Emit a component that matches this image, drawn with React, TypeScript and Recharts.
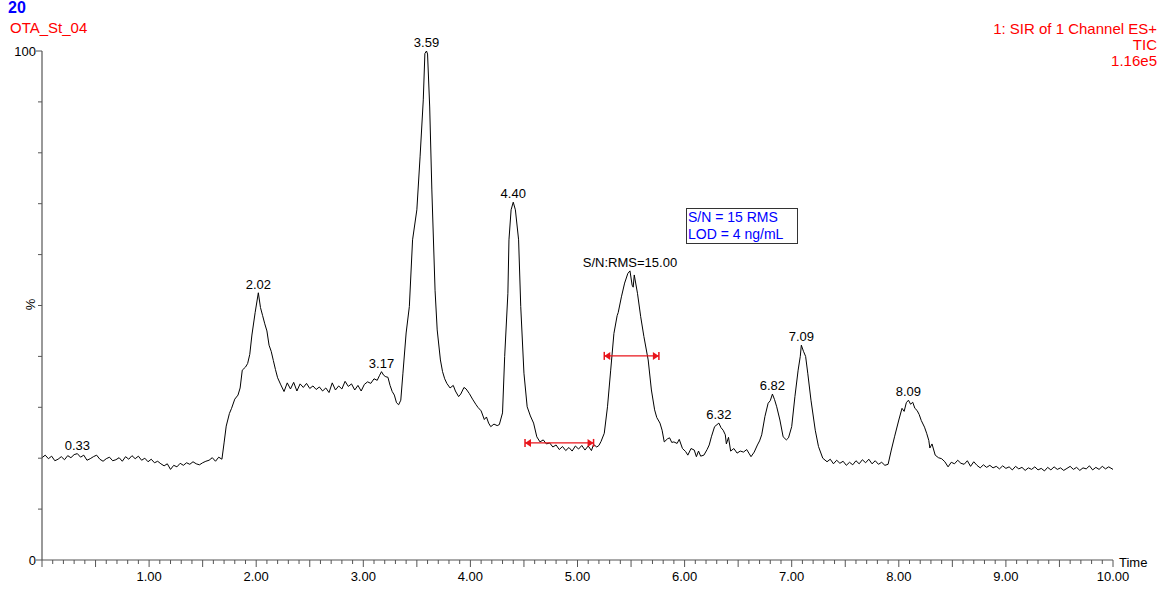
import { LineChart, Line, XAxis, YAxis, ReferenceLine } from "recharts";

// TIC trace: [retention time (min), relative abundance (%)]
const trace: [number, number][] = [
  [0.0, 20.1], [0.03, 20.6], [0.06, 19.9], [0.09, 20.4], [0.12, 19.5], [0.15, 19.8], [0.18, 20.3],
  [0.21, 19.7], [0.24, 20.5], [0.27, 20.1], [0.3, 20.7], [0.33, 20.9], [0.36, 20.2], [0.39, 20.6],
  [0.42, 19.6], [0.45, 19.9], [0.48, 20.3], [0.51, 20.6], [0.54, 19.8], [0.57, 19.4], [0.6, 19.9],
  [0.63, 20.2], [0.66, 19.5], [0.69, 19.7], [0.72, 20.1], [0.75, 19.4], [0.78, 20.3], [0.81, 19.8],
  [0.84, 20.5], [0.87, 19.9], [0.9, 20.4], [0.93, 19.6], [0.96, 20.0], [0.99, 19.3], [1.02, 19.8],
  [1.05, 19.1], [1.08, 19.4], [1.11, 18.9], [1.14, 18.5], [1.17, 18.9], [1.2, 17.8], [1.23, 18.6],
  [1.26, 18.3], [1.29, 19.0], [1.32, 18.6], [1.35, 19.1], [1.38, 18.8], [1.41, 19.3], [1.44, 18.9],
  [1.47, 18.7], [1.5, 19.1], [1.53, 19.4], [1.56, 19.6], [1.59, 20.1], [1.62, 19.4], [1.65, 20.2],
  [1.68, 19.8], [1.7, 23.0], [1.72, 26.3], [1.75, 28.8], [1.77, 29.8], [1.8, 31.6], [1.83, 32.4],
  [1.85, 33.8], [1.87, 37.3], [1.9, 37.9], [1.92, 38.6], [1.94, 40.4], [1.96, 44.2], [1.99, 48.6],
  [2.02, 52.5], [2.04, 49.6], [2.06, 48.0], [2.08, 46.4], [2.1, 45.0], [2.12, 42.2], [2.14, 41.0],
  [2.16, 39.2], [2.18, 37.4], [2.2, 35.8], [2.23, 34.4], [2.26, 33.1], [2.29, 34.8], [2.32, 33.6],
  [2.35, 34.9], [2.38, 33.2], [2.41, 34.6], [2.44, 33.9], [2.47, 34.7], [2.5, 33.7], [2.53, 34.2],
  [2.56, 33.5], [2.59, 34.0], [2.62, 33.2], [2.65, 33.8], [2.68, 32.9], [2.71, 34.8], [2.74, 33.4],
  [2.77, 34.2], [2.8, 33.6], [2.83, 35.1], [2.86, 34.1], [2.89, 34.6], [2.92, 33.4], [2.95, 34.3],
  [2.98, 33.2], [3.01, 34.5], [3.04, 35.0], [3.07, 34.7], [3.1, 35.6], [3.13, 35.3], [3.15, 36.2],
  [3.17, 37.0], [3.19, 36.3], [3.21, 36.0], [3.23, 35.9], [3.25, 34.3], [3.27, 33.1], [3.29, 32.4],
  [3.31, 30.9], [3.33, 30.5], [3.35, 31.4], [3.37, 36.7], [3.4, 44.6], [3.43, 49.8], [3.46, 62.9],
  [3.5, 68.8], [3.53, 79.2], [3.56, 90.4], [3.575, 99.5], [3.59, 100.0], [3.6, 99.4], [3.62, 89.0],
  [3.64, 72.7], [3.67, 53.0], [3.69, 45.2], [3.72, 39.3], [3.74, 37.0], [3.76, 35.6], [3.78, 34.7],
  [3.81, 33.8], [3.84, 34.3], [3.86, 33.2], [3.89, 32.1], [3.91, 32.6], [3.94, 33.9], [3.96, 33.6],
  [3.99, 32.7], [4.02, 31.6], [4.05, 30.6], [4.07, 30.0], [4.1, 29.3], [4.13, 27.6], [4.15, 28.1],
  [4.17, 26.9], [4.19, 26.2], [4.22, 26.7], [4.25, 26.4], [4.27, 26.6], [4.3, 28.9], [4.32, 40.0],
  [4.35, 52.4], [4.36, 62.9], [4.38, 68.8], [4.4, 70.3], [4.42, 68.8], [4.45, 62.9], [4.47, 49.8],
  [4.5, 36.7], [4.53, 30.1], [4.56, 28.3], [4.59, 26.9], [4.62, 24.2], [4.65, 23.2], [4.68, 23.6],
  [4.71, 22.8], [4.74, 23.0], [4.77, 22.2], [4.8, 22.6], [4.83, 21.7], [4.86, 22.3], [4.89, 21.5],
  [4.92, 22.1], [4.95, 21.4], [4.98, 22.4], [5.01, 21.8], [5.04, 22.5], [5.07, 21.6], [5.1, 22.4],
  [5.13, 21.5], [5.15, 22.7], [5.18, 22.2], [5.2, 22.5], [5.22, 23.3], [5.25, 24.9], [5.28, 30.1],
  [5.31, 37.3], [5.34, 44.5], [5.37, 48.0], [5.38, 48.6], [5.41, 51.7], [5.44, 54.4], [5.47, 56.3],
  [5.49, 56.8], [5.51, 54.0], [5.52, 53.6], [5.53, 56.0], [5.56, 52.4], [5.59, 47.8], [5.62, 43.9],
  [5.66, 39.3], [5.69, 33.4], [5.72, 29.5], [5.74, 28.0], [5.77, 26.9], [5.79, 25.5], [5.81, 23.2],
  [5.84, 23.8], [5.86, 24.0], [5.88, 23.1], [5.9, 23.2], [5.93, 22.9], [5.95, 23.7], [5.98, 21.9],
  [6.01, 21.3], [6.03, 20.6], [6.06, 21.9], [6.09, 21.6], [6.11, 20.3], [6.13, 21.4], [6.15, 20.4],
  [6.18, 20.6], [6.21, 21.7], [6.23, 22.6], [6.25, 24.2], [6.28, 26.2], [6.32, 26.9], [6.34, 26.0],
  [6.36, 25.5], [6.38, 24.6], [6.39, 22.8], [6.41, 24.1], [6.43, 21.4], [6.46, 21.9], [6.49, 21.0],
  [6.52, 21.4], [6.55, 21.2], [6.58, 21.7], [6.6, 21.0], [6.62, 20.3], [6.65, 21.2], [6.68, 22.6],
  [6.7, 23.4], [6.72, 24.6], [6.75, 28.2], [6.78, 30.8], [6.8, 31.3], [6.82, 32.6], [6.84, 31.5],
  [6.86, 30.1], [6.89, 27.5], [6.92, 24.2], [6.95, 23.6], [6.97, 24.0], [7.0, 26.2], [7.03, 32.1],
  [7.06, 37.3], [7.08, 40.0], [7.09, 42.2], [7.11, 41.0], [7.13, 40.0], [7.15, 36.7], [7.18, 31.4],
  [7.22, 25.5], [7.25, 22.3], [7.29, 20.0], [7.33, 19.3], [7.36, 19.8], [7.39, 18.9], [7.42, 19.6],
  [7.45, 19.0], [7.48, 19.4], [7.51, 18.6], [7.54, 19.2], [7.57, 18.7], [7.6, 19.5], [7.63, 18.9],
  [7.66, 19.7], [7.69, 19.1], [7.72, 19.8], [7.75, 18.9], [7.78, 19.5], [7.81, 18.8], [7.84, 19.2],
  [7.87, 18.6], [7.9, 18.8], [7.93, 21.6], [7.96, 24.2], [8.0, 27.5], [8.03, 29.8], [8.05, 29.2],
  [8.07, 30.9], [8.09, 31.4], [8.11, 30.6], [8.13, 31.0], [8.15, 29.8], [8.17, 29.4], [8.19, 28.6],
  [8.21, 27.4], [8.24, 26.1], [8.26, 24.9], [8.28, 23.5], [8.29, 22.0], [8.31, 22.8], [8.34, 20.6],
  [8.37, 20.1], [8.4, 19.9], [8.43, 19.3], [8.46, 18.3], [8.49, 19.2], [8.52, 18.9], [8.55, 19.6],
  [8.58, 19.0], [8.61, 18.8], [8.64, 19.5], [8.67, 18.4], [8.7, 19.3], [8.73, 18.6], [8.76, 18.1],
  [8.79, 18.7], [8.82, 18.2], [8.85, 18.6], [8.88, 18.1], [8.91, 18.4], [8.94, 17.9], [8.97, 18.5],
  [9.0, 18.0], [9.03, 18.3], [9.06, 17.7], [9.09, 18.4], [9.12, 17.9], [9.15, 18.2], [9.18, 17.6],
  [9.21, 18.1], [9.24, 17.8], [9.27, 18.3], [9.3, 17.7], [9.33, 18.0], [9.36, 17.5], [9.39, 18.2],
  [9.42, 17.7], [9.45, 18.3], [9.48, 17.8], [9.51, 18.1], [9.54, 17.6], [9.57, 18.0], [9.6, 18.4],
  [9.63, 17.8], [9.66, 18.2], [9.69, 17.6], [9.72, 18.1], [9.75, 17.9], [9.78, 18.5], [9.81, 17.7],
  [9.84, 18.2], [9.87, 17.8], [9.9, 18.4], [9.93, 17.9], [9.96, 18.3], [10.0, 17.8],
];

// apex annotations (retention time -> text)
const peakLabels: { t: number; text: string }[] = [
  { t: 0.33, text: "0.33" },
  { t: 2.02, text: "2.02" },
  { t: 3.17, text: "3.17" },
  { t: 3.59, text: "3.59" },
  { t: 4.4, text: "4.40" },
  { t: 5.49, text: "S/N:RMS=15.00" },
  { t: 6.32, text: "6.32" },
  { t: 6.82, text: "6.82" },
  { t: 7.09, text: "7.09" },
  { t: 8.09, text: "8.09" },
];

// S/N markers: noise window and peak window
const noiseWindow = { from: 4.51, to: 5.15, level: 23.0 };
const peakWindow = { from: 5.25, to: 5.76, level: 40.1 };

const xMajorTicks = [1, 2, 3, 4, 5, 6, 7, 8, 9, 10];
const xTicks = Array.from({ length: 101 }, (_, i) => i / 10);
const yTicks = [0, 10, 20, 30, 40, 50, 60, 70, 80, 90, 100];
const yLabelled = [0, 100];

const chartData = trace.map(([t, v]) => ({ t, v }));

const FONT = "'Liberation Sans', Arial, sans-serif";
const AXIS = "#555";

const XTick = (props: any) => {
  const { x, y, payload } = props;
  const v: number = payload.value;
  const isMajor = xMajorTicks.includes(v);
  const isHalf = Math.abs(v * 2 - Math.round(v * 2)) < 1e-6;
  const len = isHalf ? 7 : 4;
  return (
    <g>
      <line x1={x} y1={y} x2={x} y2={y + len} stroke={AXIS} strokeWidth={1} />
      {isMajor && (
        <text x={x} y={y + 21} textAnchor="middle" fontSize={13} fontFamily={FONT} fill="#000">
          {v.toFixed(2)}
        </text>
      )}
    </g>
  );
};

const YTick = (props: any) => {
  const { x, y, payload } = props;
  const v: number = payload.value;
  const labelled = yLabelled.includes(v);
  return (
    <g>
      <line x1={x - (labelled ? 6 : 4)} y1={y} x2={x} y2={y} stroke={AXIS} strokeWidth={1} />
      {labelled && (
        <text x={x - 6} y={y + 4.5} textAnchor="end" fontSize={13} fontFamily={FONT} fill="#000">
          {v}
        </text>
      )}
    </g>
  );
};

const PeakDot = (props: any) => {
  const { cx, cy, payload, index } = props;
  const hit = peakLabels.find((p) => Math.abs(p.t - payload.t) < 1e-6);
  if (!hit) return <g key={`d${index}`} />;
  return (
    <text key={`d${index}`} x={cx} y={cy - 4} textAnchor="middle" fontSize={13} fontFamily={FONT} fill="#000">
      {hit.text}
    </text>
  );
};

// red double-ended span with bar + arrowhead at each end
const RedSpan = (props: any) => {
  const { x1, y1, x2 } = props;
  const c = "#e8141b";
  return (
    <g>
      <line x1={x1} y1={y1} x2={x2} y2={y1} stroke={c} strokeWidth={1.2} />
      <line x1={x1} y1={y1 - 4} x2={x1} y2={y1 + 4} stroke={c} strokeWidth={1.5} />
      <line x1={x2} y1={y1 - 4} x2={x2} y2={y1 + 4} stroke={c} strokeWidth={1.5} />
      <polygon points={`${x1},${y1} ${x1 + 6},${y1 - 4} ${x1 + 6},${y1 + 4}`} fill={c} />
      <polygon points={`${x2},${y1} ${x2 - 6},${y1 - 4} ${x2 - 6},${y1 + 4}`} fill={c} />
    </g>
  );
};

const txt = (style: React.CSSProperties): React.CSSProperties => ({
  position: "absolute",
  fontFamily: FONT,
  whiteSpace: "nowrap",
  lineHeight: 1,
  ...style,
});

export default function App() {
  return (
    <div style={{ position: "absolute", left: 0, top: 0, width: 1171, height: 590, background: "#fff", overflow: "hidden" }}>
      <LineChart width={1171} height={590} data={chartData} margin={{ top: 51, right: 58, left: 0, bottom: 0 }}>
        <XAxis
          dataKey="t"
          type="number"
          domain={[0, 10]}
          ticks={xTicks}
          interval={0}
          height={30}
          tickSize={0}
          tickMargin={0}
          tickLine={false}
          tick={<XTick />}
          axisLine={{ stroke: AXIS, strokeWidth: 1.2 }}
        />
        <YAxis
          type="number"
          domain={[0, 100]}
          ticks={yTicks}
          interval={0}
          width={42}
          tickSize={0}
          tickMargin={0}
          tickLine={false}
          tick={<YTick />}
          axisLine={{ stroke: AXIS, strokeWidth: 1.2 }}
        />
        <Line
          type="linear"
          dataKey="v"
          stroke="#000"
          strokeWidth={1}
          dot={PeakDot}
          activeDot={false}
          isAnimationActive={false}
        />
        <ReferenceLine
          segment={[{ x: noiseWindow.from, y: noiseWindow.level }, { x: noiseWindow.to, y: noiseWindow.level }]}
          shape={RedSpan}
          ifOverflow="visible"
        />
        <ReferenceLine
          segment={[{ x: peakWindow.from, y: peakWindow.level }, { x: peakWindow.to, y: peakWindow.level }]}
          shape={RedSpan}
          ifOverflow="visible"
        />
      </LineChart>

      <div style={txt({ left: 8, top: 0, fontSize: 16, fontWeight: "bold", color: "#0000ff" })}>20</div>
      <div style={txt({ left: 10, top: 20, fontSize: 15, color: "#ff0000" })}>OTA_St_04</div>
      <div style={txt({ right: 14, top: 21, fontSize: 15, color: "#ff0000", textAlign: "right", lineHeight: "16px" })}>
        1: SIR of 1 Channel ES+
        <br />
        TIC
        <br />
        1.16e5
      </div>
      <div
        style={txt({
          left: 25,
          top: 298,
          fontSize: 13,
          color: "#000",
          transform: "rotate(-90deg)",
          transformOrigin: "center",
        })}
      >
        %
      </div>
      <div style={txt({ left: 1119, top: 556, fontSize: 13, color: "#000" })}>Time</div>
      <div
        style={txt({
          left: 686,
          top: 208,
          width: 109,
          height: 34,
          border: "1px solid #333",
          fontSize: 14,
          color: "#0000ff",
          lineHeight: "17px",
          paddingLeft: 1,
          boxSizing: "content-box",
        })}
      >
        S/N = 15 RMS
        <br />
        LOD = 4 ng/mL
      </div>
    </div>
  );
}
